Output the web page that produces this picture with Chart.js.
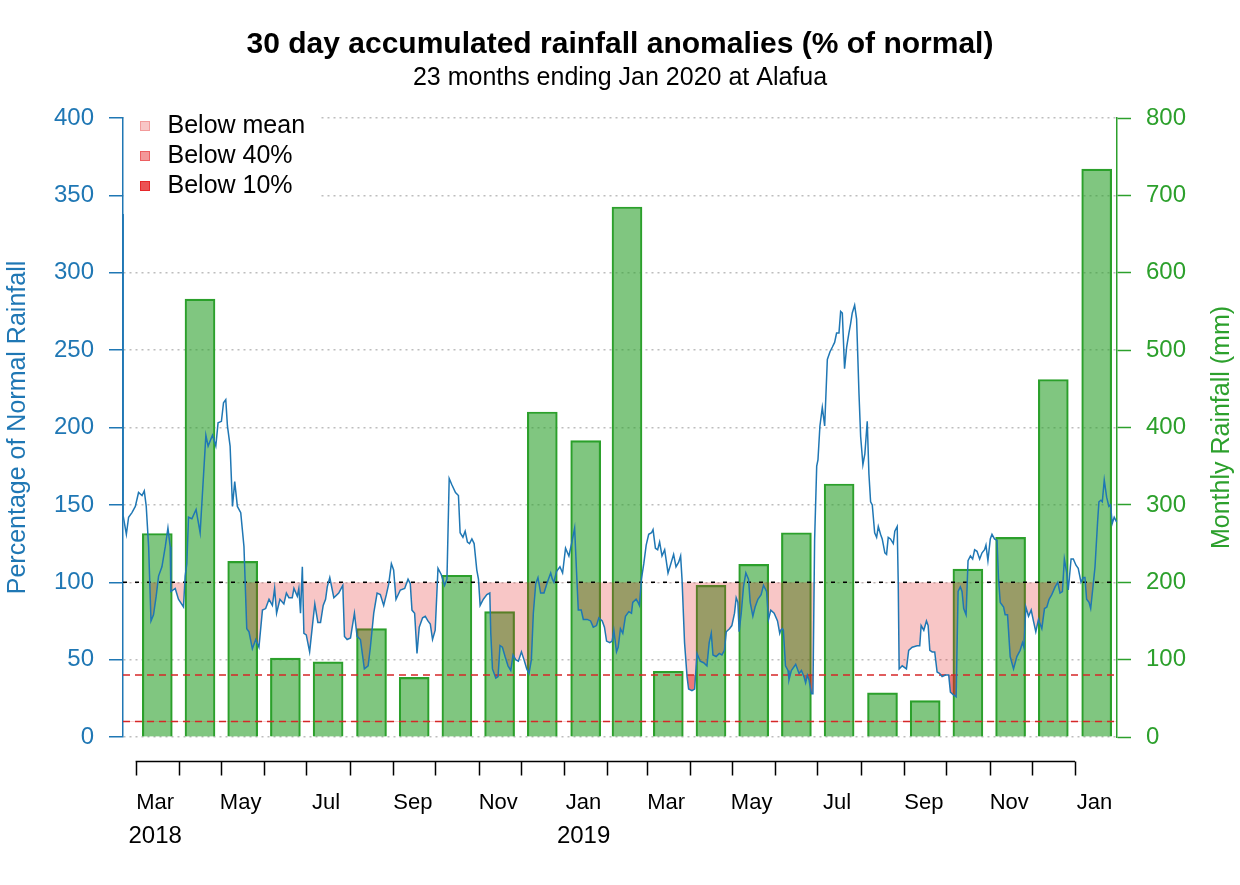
<!DOCTYPE html>
<html>
<head>
<meta charset="utf-8">
<title>30 day accumulated rainfall anomalies</title>
<script src="https://cdn.jsdelivr.net/npm/chart.js@4.4.1/dist/chart.umd.min.js"></script>
<style>
  html, body { margin: 0; padding: 0; background: #fff; }
  #chart { display: block; }
</style>
</head>
<body>
<canvas id="chart" width="1240" height="885"></canvas>
<script>
// months covered by the plot (Mar 2018 .. Jan 2020)
const months = ['2018-03', '2018-04', '2018-05', '2018-06', '2018-07', '2018-08', '2018-09', '2018-10',
  '2018-11', '2018-12', '2019-01', '2019-02', '2019-03', '2019-04', '2019-05', '2019-06', '2019-07',
  '2019-08', '2019-09', '2019-10', '2019-11', '2019-12', '2020-01'];
const monthLabels = ['Mar', 'Apr', 'May', 'Jun', 'Jul', 'Aug', 'Sep', 'Oct', 'Nov', 'Dec', 'Jan', 'Feb',
  'Mar', 'Apr', 'May', 'Jun', 'Jul', 'Aug', 'Sep', 'Oct', 'Nov', 'Dec', 'Jan'];
const yearLabels = { '2018-03': '2018', '2019-01': '2019' };

// monthly rainfall (mm), right axis
const monthlyRain = [263, 566, 227, 102, 97, 140, 77, 209, 162, 420, 383, 685, 85, 196, 223, 264, 327, 57, 47, 217, 258, 462, 734];

// 30 day rainfall as % of normal: [days since 1 Mar 2018, percent]
const anomaly = [
  [-9, 338], [-8.9, 143], [-6.6, 131], [-5, 142], [-2.6, 145], [-0.2, 149], [2.1, 158], [4.6, 156], [6.2, 159],
  [7.6, 149], [9.3, 123], [11, 75], [12.8, 79], [14.7, 91], [16.4, 104], [18.8, 110], [21.2, 123], [23.1, 135],
  [24.7, 123], [25.2, 94], [28.3, 96], [30.6, 89], [34.2, 84], [35.4, 104], [36.6, 112], [37.8, 142], [40.2, 141],
  [43.2, 147], [46.1, 132], [50.2, 195], [51.8, 188], [54.9, 195], [57.3, 188], [58.9, 203], [61.3, 204],
  [62.8, 216], [64.4, 218], [65.6, 201], [67.5, 188], [69.2, 149], [70.8, 165], [72.7, 149], [75.1, 145],
  [77.4, 123], [79.4, 70], [81, 68], [83.4, 57], [85.8, 63], [88.1, 58], [90.6, 82], [92.9, 83], [95.3, 89],
  [97.7, 85], [99.3, 96], [100.7, 80], [103.1, 89], [105.9, 86], [107.7, 93], [109.5, 90], [111.9, 90],
  [113.1, 96], [115.5, 91], [116.6, 96], [117.8, 80], [119.1, 110], [120.2, 67], [121.9, 66], [124.3, 55],
  [126.2, 71], [128, 86], [130.2, 74], [132.1, 74], [134, 85], [135.7, 89], [136.9, 97], [138.7, 103],
  [141.6, 90], [145.1, 93], [148, 98], [149.2, 65], [151.1, 63], [153.5, 64], [156.3, 80], [158.2, 65],
  [160.6, 63], [163.4, 44], [166.1, 46], [167.7, 58], [170.1, 80], [172.5, 93], [174.8, 92], [177.2, 85],
  [179.1, 92], [180.8, 99], [182.7, 112], [184.3, 108], [186, 89], [189.1, 95], [192.2, 96], [194.6, 102],
  [196.2, 99], [197.4, 82], [199.3, 80], [201, 54], [202.6, 71], [205, 77], [206.9, 78], [208.8, 75],
  [210.5, 73], [212.1, 63], [214, 69], [216, 109], [218.3, 105], [220.7, 98], [222.4, 102], [224, 167],
  [225.9, 163], [228.5, 158], [230.6, 156], [231.8, 132], [233.8, 129], [235.4, 133], [237, 126], [238.5, 125],
  [240.2, 128], [241.8, 125], [243.7, 108], [244.9, 102], [246.1, 85], [248.4, 89], [250.9, 92], [253, 93],
  [253.7, 67], [254.9, 44], [257.3, 38], [258.9, 39], [260.3, 59], [262, 58], [263.9, 52], [266, 46],
  [268, 43], [269.6, 53], [271.5, 50], [273.4, 49], [275.6, 55], [277.4, 50], [279.4, 44], [281, 41],
  [282.7, 50], [284.1, 80], [285.8, 99], [287.4, 103], [289.3, 93], [291.7, 93], [294.1, 100], [296.5, 106],
  [297.7, 102], [298.8, 100], [300.7, 107], [303.1, 110], [305, 106], [307.1, 122], [309.5, 117], [311.4, 125],
  [313.6, 135], [315, 106], [316.2, 82], [318.3, 82], [319.8, 76], [322.6, 76], [325, 75], [326.9, 71],
  [329.2, 72], [330.9, 77], [333.3, 75], [334.9, 71], [336.4, 62], [338.7, 61], [340.4, 62], [341.6, 69],
  [343.5, 55], [344.7, 58], [346.3, 70], [348, 67], [349.9, 78], [352.3, 81], [354.2, 80], [355.1, 87],
  [357.5, 89], [358.9, 87], [359.9, 85], [361.3, 102], [363, 112], [364.7, 124], [366.5, 131], [368.5, 132],
  [369.6, 134], [371.3, 122], [372.9, 121], [374.3, 126], [376, 117], [377.9, 121], [380.3, 106], [382, 111],
  [384.3, 118], [386, 110], [387.9, 113], [389.3, 117], [390.3, 102], [392.1, 61], [393.9, 39], [395, 31],
  [397.4, 30], [399.3, 31], [401, 54], [403.3, 49], [405.7, 48], [408.1, 46], [409.7, 61], [411.2, 67],
  [412.4, 53], [414.7, 52], [416.9, 54], [418.8, 53], [420.6, 56], [421.9, 68], [424.2, 70], [425.9, 72],
  [427.8, 80], [429, 90], [430.2, 87], [431.1, 68], [432.6, 80], [434.2, 97], [435.9, 106], [437.8, 102],
  [439, 87], [440.9, 78], [442.5, 84], [444.5, 89], [446.8, 92], [448.5, 98], [450.7, 94], [452.1, 76],
  [453.7, 82], [456.1, 80], [458.5, 75], [460.1, 67], [460.8, 69], [462, 70], [462.7, 69], [464.2, 46],
  [466, 43], [466.7, 37], [468.4, 43], [471.5, 47], [473.9, 41], [475.6, 43], [477.4, 39], [478.6, 35],
  [479.8, 40], [481, 37], [482.7, 28], [483.8, 28], [485, 127], [486.5, 175], [487.4, 179], [488.8, 201],
  [490.5, 213], [492.2, 201], [494.1, 244], [496, 249], [497.7, 252], [499.3, 255], [500.7, 261], [502.4, 261],
  [503.6, 275], [504.8, 274], [506.4, 238], [507.9, 252], [509.5, 261], [510.7, 267], [511.9, 274], [513.6, 279],
  [515, 270], [516.7, 222], [517.9, 194], [519.5, 176], [520.9, 183], [522.6, 204], [523.8, 170], [525, 152],
  [526.2, 150], [527.9, 132], [529.3, 129], [530.5, 136], [532.1, 131], [533.3, 128], [535.2, 119], [536.4, 118],
  [537.6, 129], [539.2, 128], [541.2, 125], [542.3, 133], [544, 136], [544.7, 102], [545.4, 44], [547.6, 46],
  [550.6, 44], [552.2, 56], [554.7, 58], [558.2, 59], [560.1, 59], [561.1, 72], [563, 69], [564.9, 75],
  [566.1, 72], [567.3, 56], [569, 55], [570.8, 55], [572.5, 42], [574.4, 41], [576.1, 39], [578.4, 40],
  [580.8, 40], [582, 29], [584.4, 27], [586.1, 26], [587.5, 94], [589.1, 97], [590.3, 94], [591.5, 83],
  [593.2, 79], [594.6, 114], [596.3, 117], [597.9, 115], [599.3, 121], [601, 120], [602.9, 115], [604.6, 119],
  [606.4, 121], [607.4, 124], [608.8, 114], [610.5, 128], [611.7, 131], [613.5, 128], [615.3, 127], [616.4, 102],
  [617.6, 87], [620, 84], [621.1, 79], [622.8, 79], [624.7, 52], [627.1, 44], [629.5, 52], [631.8, 56],
  [633.5, 61], [634.5, 58], [635.9, 84], [637.8, 78], [639.7, 82], [641.3, 75], [643, 68], [644.9, 76],
  [647.3, 70], [649.2, 83], [650.9, 84], [652.5, 89], [654.4, 92], [656.8, 97], [658.7, 100], [660.3, 93],
  [662, 94], [663.4, 115], [665.1, 106], [666.2, 95], [668.2, 115], [669.8, 115], [671.7, 111], [673.3, 109],
  [675.3, 100], [676.9, 103], [678.1, 103], [679.3, 89], [681, 87], [682.2, 83], [683.6, 95], [685.3, 110],
  [687.2, 140], [688.1, 152], [689.5, 153], [690.5, 152], [691.9, 166], [693.6, 155], [695.2, 149], [696.4, 150],
  [697.6, 138], [699, 142], [700.7, 139]
];

// reference levels (% of normal)
const meanLevel = 100;
const lowLevels = [40, 10];
const fillLabels = ['Below mean', 'Below 40%', 'Below 10%'];

const BLUE = '#1f77b4';
const GREEN = '#2ca02c';
const RED = '#d62728';
const X_MIN = -9, X_MAX = 701;

// day offsets from 1 Mar 2018
const origin = Date.UTC(2018, 2, 1);
function dayOf(ym, dd, shift) {
  const [y, m] = ym.split('-').map(Number);
  return (Date.UTC(y, m - 1 + (shift || 0), dd) - origin) / 864e5;
}
const monthStart = months.map(m => dayOf(m, 1));
const monthMid = months.map(m => (dayOf(m, 1) + dayOf(m, 1, 1)) / 2);
const labelIdx = months.map((m, i) => i).filter(i => i % 2 === 0);
const yearIdx = months.map((m, i) => i).filter(i => yearLabels[months[i]]);

const points = anomaly.map(p => ({ x: p[0], y: p[1] }));
const flat = v => [{ x: X_MIN, y: v }, { x: X_MAX, y: v }];

Chart.defaults.font.family = '"Liberation Sans", Arial, sans-serif';
Chart.defaults.color = '#000';

// small square legend swatch, left aligned in a 15px wide box
function swatch(color) {
  const c = document.createElement('canvas');
  c.width = 15; c.height = 10;
  const g = c.getContext('2d');
  g.fillStyle = color;
  g.fillRect(0, 0, 10, 10);
  g.strokeStyle = color;
  g.lineWidth = 1;
  g.strokeRect(0.5, 0.5, 9, 9);
  return c;
}

// R style date axis drawn under the plot, from first to last month tick
const monthAxis = {
  id: 'monthAxis',
  afterDraw(chart) {
    const { ctx, chartArea, scales: { x } } = chart;
    const y0 = chartArea.bottom + 24.5;
    ctx.save();
    ctx.strokeStyle = '#000';
    ctx.lineWidth = 1.5;
    ctx.beginPath();
    ctx.moveTo(x.getPixelForValue(monthStart[0]), y0);
    ctx.lineTo(x.getPixelForValue(monthStart[monthStart.length - 1]), y0);
    monthStart.forEach(d => {
      const px = Math.round(x.getPixelForValue(d)) + 0.5;
      ctx.moveTo(px, y0);
      ctx.lineTo(px, y0 + 14);
    });
    ctx.stroke();
    ctx.restore();
  }
};

// legend sits in the top-left corner of the plot on a white box
const legendBox = {
  id: 'legendBox',
  afterLayout(chart) {
    const lg = chart.legend, area = chart.chartArea;
    lg.left = area.left + 12;
    lg.top = area.top - 9.5;
    lg.bottom = lg.top + 200;
  },
  beforeDatasetsDraw(chart) {
    const { ctx, chartArea } = chart;
    ctx.save();
    ctx.fillStyle = '#fff';
    ctx.fillRect(chartArea.left + 1, chartArea.top - 10, 195, 92);
    ctx.restore();
    chart.legend.draw();
  }
};

// right axis title reads bottom to top, as in the original
const rightTitle = {
  id: 'rightTitle',
  afterDraw(chart) {
    const { ctx, chartArea } = chart;
    ctx.save();
    ctx.translate(chart.width - 18, (chartArea.top + chartArea.bottom) / 2);
    ctx.rotate(-Math.PI / 2);
    ctx.fillStyle = GREEN;
    ctx.font = '25px "Liberation Sans", Arial, sans-serif';
    ctx.textAlign = 'center';
    ctx.textBaseline = 'middle';
    ctx.fillText('Monthly Rainfall (mm)', 0, 0);
    ctx.restore();
  }
};

const fillSet = (label, level, color, order) => ({
  type: 'line', label, data: points, yAxisID: 'y',
  borderColor: 'rgba(0,0,0,0)', borderWidth: 0, pointRadius: 0, tension: 0,
  backgroundColor: color,
  fill: { target: { value: level }, above: 'rgba(0,0,0,0)', below: color },
  order
});

new Chart(document.getElementById('chart'), {
  type: 'line',
  data: {
    datasets: [
      fillSet(fillLabels[0], meanLevel, 'rgba(228,26,28,0.25)', 4),
      fillSet(fillLabels[1], lowLevels[0], 'rgba(228,26,28,0.45)', 3),
      fillSet(fillLabels[2], lowLevels[1], 'rgba(228,26,28,0.75)', 3),
      {
        type: 'bar', label: 'Monthly rainfall', yAxisID: 'y2',
        data: monthMid.map((d, i) => ({ x: d, y: monthlyRain[i] })),
        backgroundColor: 'rgba(44,160,44,0.6)', borderColor: GREEN, borderWidth: 1.5,
        barThickness: 30, order: 6
      },
      {
        type: 'line', label: 'mean', data: flat(meanLevel), yAxisID: 'y',
        borderColor: '#000', borderWidth: 1.5, borderDash: [4, 8], pointRadius: 0, fill: false, order: 2
      },
      ...lowLevels.map(v => ({
        type: 'line', label: v + '%', data: flat(v), yAxisID: 'y',
        borderColor: RED, borderWidth: 1.5, borderDash: [7, 5], pointRadius: 0, fill: false, order: 2
      })),
      {
        type: 'line', label: '% of normal', data: points, yAxisID: 'y',
        borderColor: BLUE, borderWidth: 1.5, pointRadius: 0, tension: 0, fill: false, order: 1
      }
    ]
  },
  options: {
    responsive: false,
    animation: false,
    events: [],
    layout: { padding: 0 },
    plugins: {
      title: {
        display: true, text: '30 day accumulated rainfall anomalies (% of normal)',
        font: { size: 30, weight: 'bold' }, padding: { top: 27, bottom: 0 }
      },
      subtitle: {
        display: true, text: '23 months ending Jan 2020 at Alafua',
        font: { size: 25 }, padding: { top: 0, bottom: 25 }
      },
      legend: {
        position: 'chartArea', align: 'start',
        labels: {
          usePointStyle: true, pointStyleWidth: 15, boxHeight: 10,
          padding: 5, font: { size: 25 },
          generateLabels: chart => chart.data.datasets
            .map((ds, i) => ({
              text: ds.label, fillStyle: ds.backgroundColor, strokeStyle: ds.backgroundColor,
              lineWidth: 0, pointStyle: swatch(ds.backgroundColor), hidden: false, datasetIndex: i, fontColor: '#000'
            }))
            .filter(it => fillLabels.includes(it.text))
        }
      },
      tooltip: { enabled: false }
    },
    scales: {
      x: {
        type: 'linear', position: 'bottom', min: X_MIN, max: X_MAX, offset: false, weight: 0,
        grid: { display: false, drawTicks: false }, border: { display: false },
        afterBuildTicks: s => { s.ticks = labelIdx.map(i => ({ value: dayOf(months[i], 15) })); },
        ticks: {
          autoSkip: false, maxRotation: 0, padding: 53, font: { size: 22 },
          callback: (v, i) => monthLabels[labelIdx[i]]
        },
        afterFit: s => { s.height = 80; }
      },
      xYear: {
        type: 'linear', position: 'bottom', min: X_MIN, max: X_MAX, offset: false, weight: 1,
        grid: { display: false, drawTicks: false }, border: { display: false },
        afterBuildTicks: s => { s.ticks = yearIdx.map(i => ({ value: dayOf(months[i], 15) })); },
        ticks: {
          autoSkip: false, maxRotation: 0, padding: 5, font: { size: 24 },
          callback: (v, i) => yearLabels[months[yearIdx[i]]]
        },
        afterFit: s => { s.height = 68; }
      },
      y: {
        position: 'left', min: 0, max: 400,
        ticks: { stepSize: 50, color: BLUE, font: { size: 24 }, padding: 15 },
        grid: { color: '#bdbdbd', lineWidth: 1.5, tickColor: BLUE, tickLength: 14, tickWidth: 1.5 },
        border: { color: BLUE, width: 1.5, dash: [2, 4] },
        title: {
          display: true, text: 'Percentage of Normal Rainfall', color: BLUE,
          font: { size: 25 }, padding: { top: 3, bottom: 0 }
        },
        afterFit: s => { s.width = 123; }
      },
      y2: {
        position: 'right', min: 0, max: 800,
        ticks: { stepSize: 100, color: GREEN, font: { size: 24 }, padding: 15 },
        grid: { drawOnChartArea: false, color: GREEN, tickColor: GREEN, tickLength: 14, tickWidth: 1.5 },
        border: { color: GREEN, width: 1.5 },
        afterFit: s => { s.width = 123; }
      }
    }
  },
  plugins: [legendBox, monthAxis, rightTitle]
});
</script>
</body>
</html>
